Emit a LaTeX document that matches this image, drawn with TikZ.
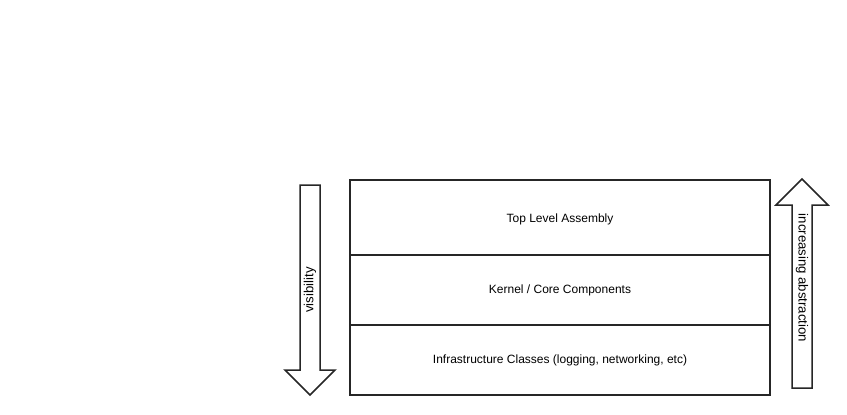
\documentclass[tikz,border=0pt]{standalone}
\usepackage{fontspec}
\setmainfont{Liberation Sans}
\begin{document}
\begin{tikzpicture}[x=1pt,y=-1pt,
  layer/.style={draw=black!85,line width=1.5pt,minimum width=420pt,inner sep=0pt,font=\fontsize{12}{14}\selectfont},
  bigarrow/.style={draw=black!85,line width=1.5pt,fill=white,line join=miter},
  lbl/.style={font=\fontsize{13.2}{15}\selectfont,inner sep=0pt}]
\useasboundingbox (0,0) rectangle (847,415);
\node[layer,minimum height=75pt] (top) at (560,217.5) {};
\node[font=\fontsize{12}{14}\selectfont,inner sep=0pt] (toptext) at (560,219.5) {Top Level Assembly};
\node[layer,minimum height=70pt] (kern) at (560,290) {Kernel / Core Components};
\node[layer,minimum height=70pt] (infra) at (560,360) {Infrastructure Classes (logging, networking, etc)};
% visibility arrow (down)
\draw[bigarrow] (300,185) -- (320,185) -- (320,370) -- (335,370) -- (310,395) -- (285,370) -- (300,370) -- cycle;
\node[lbl,rotate=90] (vis) at (310,290) {visibility};
% increasing abstraction arrow (up)
\draw[bigarrow] (792,388) -- (812,388) -- (812,205) -- (828,205) -- (802,179) -- (776,205) -- (792,205) -- cycle;
\node[lbl,rotate=-90] (abs) at (802,278) {increasing abstraction};
\end{tikzpicture}
\end{document}
